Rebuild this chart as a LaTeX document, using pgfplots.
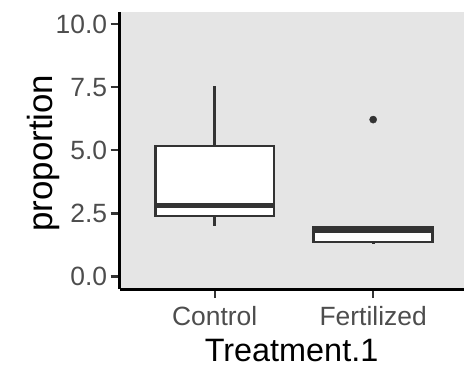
\documentclass[border=0pt]{standalone}
\usepackage{fontspec}
\setmainfont{Liberation Sans}
\usepackage{pgfplots}
\pgfplotsset{compat=1.18}
\usepgfplotslibrary{statistics}
\definecolor{panel}{HTML}{E5E5E5}
\definecolor{g20}{HTML}{333333}
\definecolor{g30}{HTML}{4D4D4D}
\begin{document}
\begin{tikzpicture}
\begin{axis}[
  name=ax,
  scale only axis, width=345pt, height=278.3pt,
  xmin=0.4, xmax=2.57, ymin=-0.5, ymax=10.5,
  axis background/.style={fill=panel},
  axis x line*=bottom, axis y line*=left,
  axis line style={line width=3pt, black},
  xtick={1,2}, xticklabels={Control,Fertilized},
  ytick={0,2.5,5,7.5,10},
  yticklabel style={/pgf/number format/fixed, /pgf/number format/fixed zerofill, /pgf/number format/precision=1},
  /pgf/number format/assume math mode=true,
  tick label style={font=\fontsize{26.5}{26.5}\selectfont, text=g30},
  xticklabel style={yshift=-5pt},
  tick align=outside, major tick length=9pt,
  every tick/.style={line width=2.2pt, g20},
  xlabel={Treatment.1}, ylabel={proportion},
  every axis x label/.style={at={(axis description cs:0.5,-0.262)}, anchor=base, font=\fontsize{32.5}{32.5}\selectfont},
  every axis y label/.style={at={(axis description cs:-0.222,0.49)}, rotate=90, anchor=center, font=\fontsize{35}{35}\selectfont},
  boxplot/draw direction=y,
  boxplot/every box/.style={line width=2.5pt, draw=g20, fill=white},
  boxplot/every whisker/.style={line width=2.7pt, draw=g20},
  boxplot/every median/.style={line width=5pt, draw=g20},
  clip=false,
]
\addplot[boxplot prepared={draw position=1, lower whisker=1.99, lower quartile=2.39, median=2.82, upper quartile=5.17, upper whisker=7.57, box extend=0.75, whisker extend=0}, draw=g20, fill=white, line width=2.5pt, solid] coordinates {};
\addplot[boxplot prepared={draw position=2, lower whisker=1.27, lower quartile=1.36, median=1.83, upper quartile=1.97, upper whisker=1.97, box extend=0.75, whisker extend=0}, draw=g20, fill=white, line width=2.5pt, solid] coordinates {};
\addplot[only marks, mark=*, mark size=3.6pt, g20] coordinates {(2,6.22)};
\end{axis}
\path (ax.south west) ++(-120pt,-80pt) rectangle ([yshift=11.7pt]ax.north east);
\end{tikzpicture}
\end{document}
